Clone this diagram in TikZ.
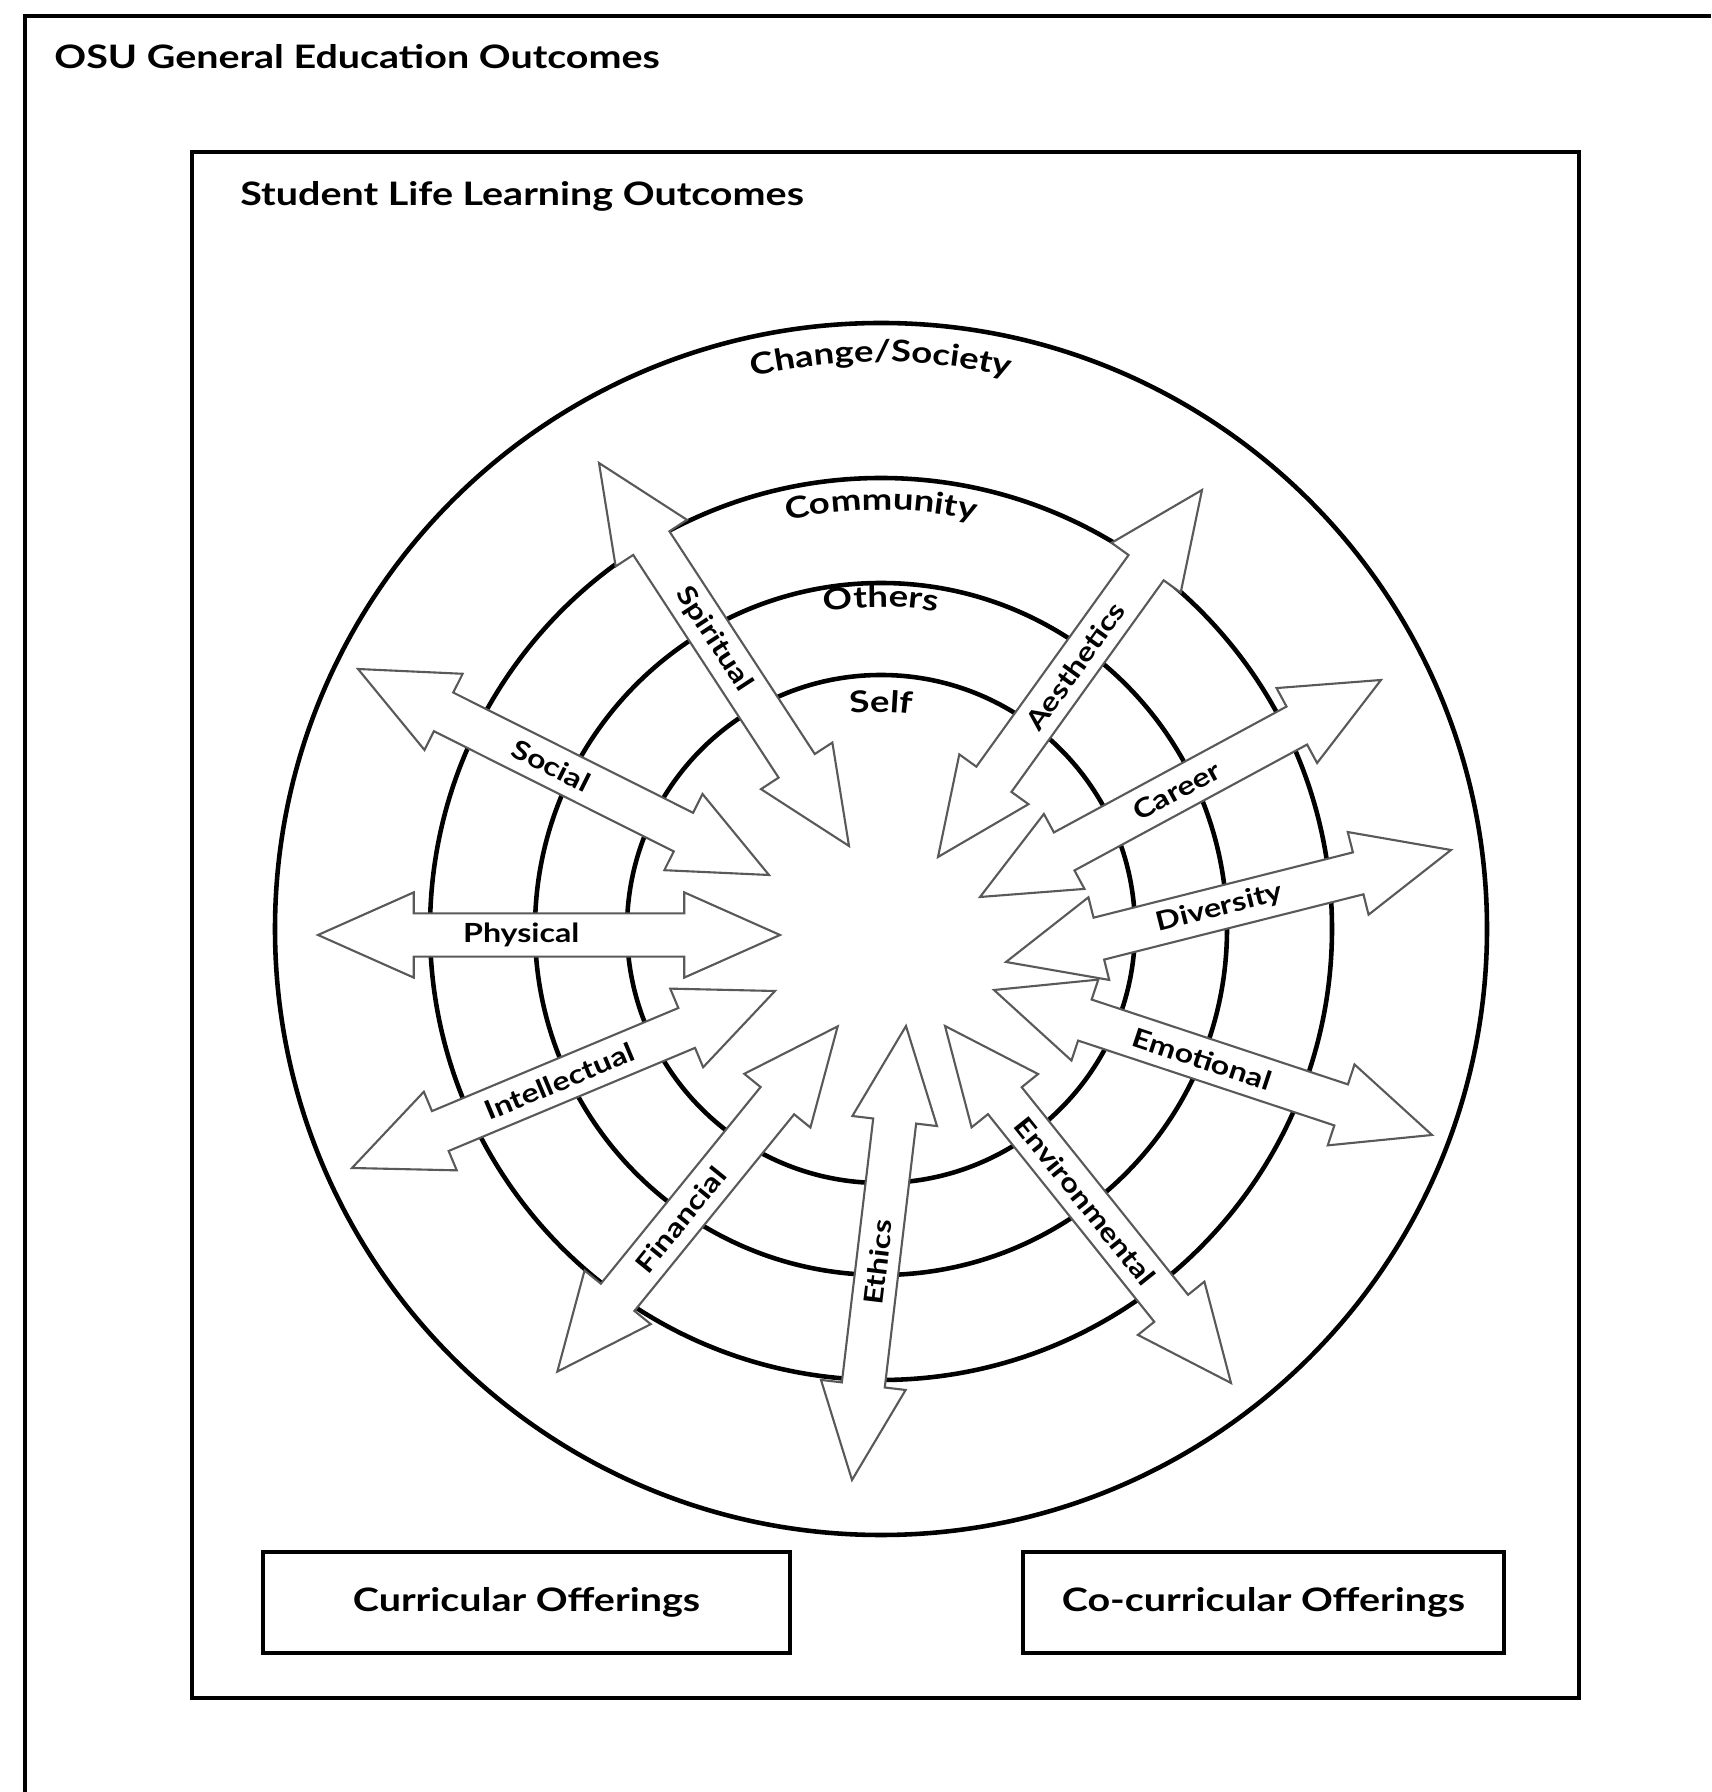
\documentclass[tikz,border=0pt]{standalone}
\usepackage{fontspec}
\newfontfamily\osufont{Lato}[FakeStretch=1.22]
\usepackage{tikz}
\usetikzlibrary{calc,shapes.arrows,decorations.text}

\newcommand\headfont{\osufont\bfseries\fontsize{9.2}{11}\selectfont}
\newcommand\ringfont{\osufont\bfseries\fontsize{8.5}{10}\selectfont}
\newcommand\armfont{\osufont\bfseries\fontsize{7.5}{9}\selectfont}

\tikzset{
	frame/.style={line width=1.1pt},
	ring/.style={line width=1.3pt},
	outcome/.style={double arrow, draw=black!65, fill=white, line width=0.6pt,
		double arrow head extend=0.21cm, double arrow tip angle=48,
		inner xsep=1pt, inner ysep=0pt, text height=8.1pt, text depth=3.6pt},
	armlabel/.style={inner sep=0pt, font=\armfont},
	offer/.style={draw, line width=1.1pt, minimum height=1.01cm, font=\headfont},
	ringlabel/.style={decorate, decoration={text along path, text align=center, text={|\ringfont|#1}}}
}

\begin{document}
\begin{tikzpicture}
	\useasboundingbox (0,0) rectangle (17.11,17.92);
	% outer frame, open to the right and below
	\draw[frame] (17.11,17.76) -- (0.25,17.76) -- (0.25,0);
	\node[anchor=base west, font=\headfont] (gened) at (0.42,17.23) {OSU General Education Outcomes};
	\draw[frame] (1.92,0.94) rectangle (15.79,16.40);
	\node[anchor=base west, font=\headfont] (slo) at (2.28,15.86) {Student Life Learning Outcomes};

	% rings
	\coordinate (hub) at (8.81,8.63);
	\foreach \r in {6.06,4.51,3.46,2.54}
		\draw[ring] (hub) circle (\r);
	\path[ringlabel=Change/Society] (hub) ++(150:5.67) arc[start angle=150, end angle=30, radius=5.67];
	\path[ringlabel=Community] (hub) ++(150:4.19) arc[start angle=150, end angle=30, radius=4.19];
	\path[ringlabel=Others] (hub) ++(150:3.22) arc[start angle=150, end angle=30, radius=3.22];
	\path[ringlabel=Self] (hub) ++(150:2.17) arc[start angle=150, end angle=30, radius=2.17];

	% double arrows, tail to head in reading direction, label at \pos
	\foreach \nm/\ptail/\phead/\pos/\lbl in {
			spiritual/{5.99,13.29}/{8.49,9.46}/0.46/Spiritual,
			aesthetics/{9.38,9.35}/{12.02,13.02}/0.52/Aesthetics,
			social/{3.58,11.23}/{7.69,9.17}/0.47/Social,
			career/{9.80,8.95}/{13.81,11.12}/0.49/Career,
			physical/{3.18,8.57}/{7.80,8.57}/0.44/Physical,
			diversity/{10.06,8.30}/{14.51,9.42}/0.48/Diversity,
			intellectual/{3.52,6.24}/{7.75,8.01}/0.49/Intellectual,
			emotional/{9.94,8.02}/{14.32,6.57}/0.475/Emotional,
			financial/{5.57,4.20}/{8.38,7.66}/0.44/Financial,
			ethics/{8.52,3.12}/{9.06,7.66}/0.48/Ethics,
			environmental/{9.45,7.66}/{12.31,4.09}/0.49/Environmental}
		\path let \p1 = ($(\phead)-(\ptail)$), \n1 = {atan2(\y1,\x1)}, \n2 = {veclen(\x1,\y1)} in
			node[outcome, rotate=\n1, minimum height=\n2] (\nm) at ($(\ptail)!0.5!(\phead)$) {}
			node[armlabel, rotate=\n1] (\nm-text) at ($(\ptail)!\pos!(\phead)$) {\lbl};

	\node[offer, minimum width=5.27cm] (curr) at (5.265,1.895) {Curricular Offerings};
	\node[offer, minimum width=4.81cm] (cocurr) at (12.635,1.895) {Co-curricular Offerings};
\end{tikzpicture}
\end{document}
